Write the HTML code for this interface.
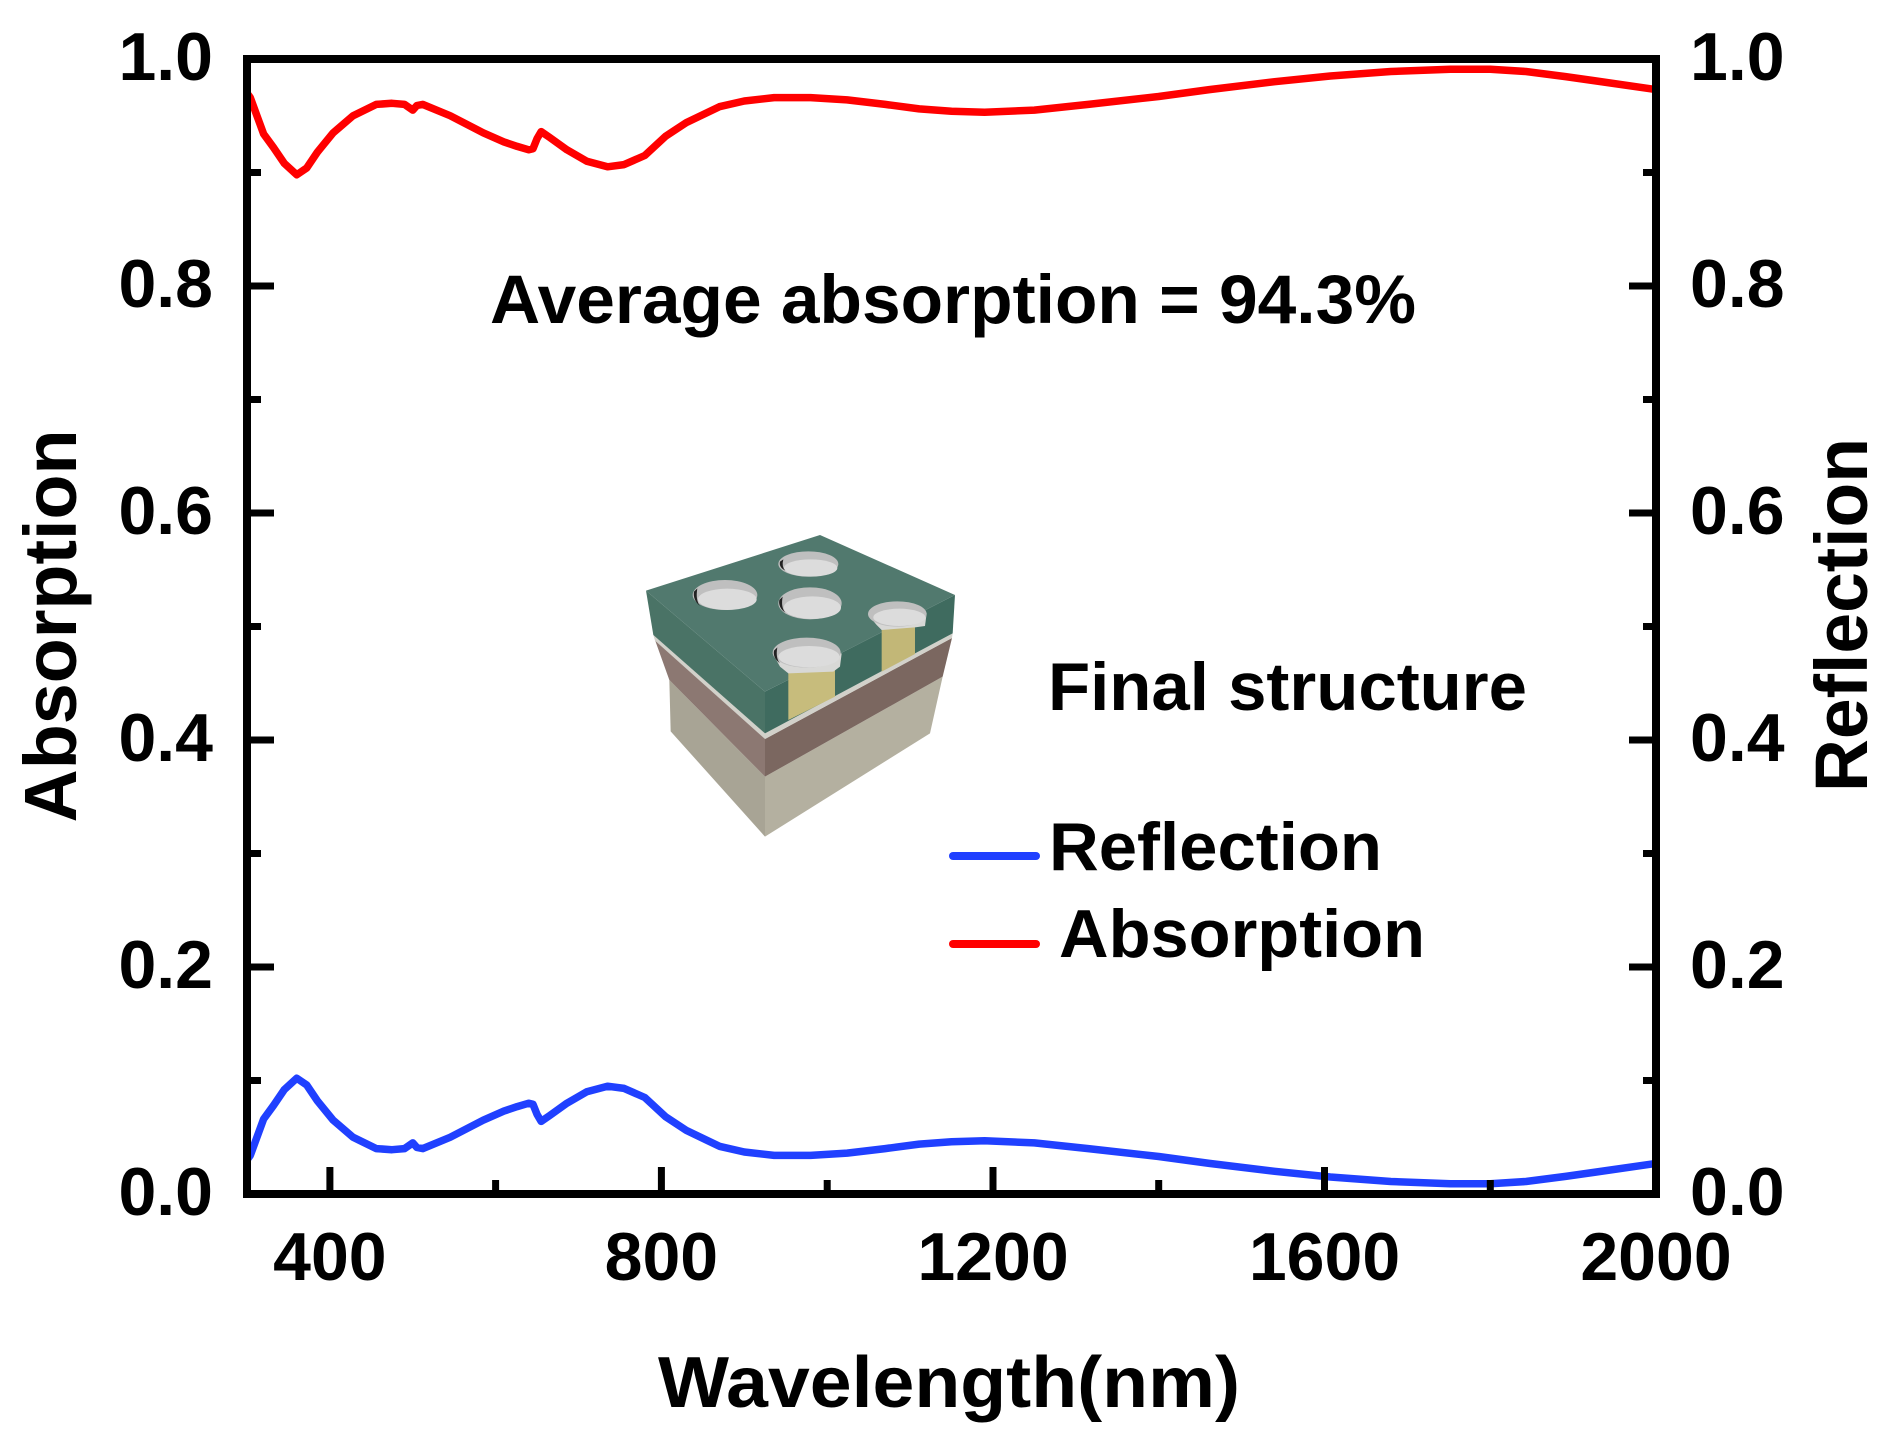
<!DOCTYPE html>
<html>
<head>
<meta charset="utf-8">
<style>
html,body{margin:0;padding:0;background:#fff;}
svg{display:block;}
text{font-family:"Liberation Sans",Arial,sans-serif;font-weight:bold;fill:#000;}
</style>
</head>
<body>
<svg width="1895" height="1452" viewBox="0 0 1895 1452" xmlns="http://www.w3.org/2000/svg">
<rect width="1895" height="1452" fill="#fff"/>
<defs>
<clipPath id="pa"><rect x="247" y="59" width="1409" height="1135"/></clipPath>
</defs>

<!-- curves -->
<g clip-path="url(#pa)" fill="none" stroke-width="7.5" stroke-linejoin="round" stroke-linecap="round">
<polyline stroke="#ff0000" points="247,93.1 250.3,97.6 256.9,115.7 263.6,133.9 273.5,147.5 284.3,163.4 296.7,174.8 306.7,168 317.4,152.1 333.2,132.8 353.1,115.7 376.3,104.4 392,103.3 404.5,104.4 412.8,110.1 416.9,105.5 422.7,104.4 450.1,115.7 483.2,132.8 503.9,141.9 517.2,146.4 528.8,149.8 533,148.7 537.1,138.5 541.2,131.6 549.5,137.3 566.9,149.8 586.8,161.2 607.5,166.8 624.1,164.6 644.8,155.5 665.6,136.2 686.3,122.6 719.4,106.7 744.3,101 774.1,97.6 810.6,97.6 847.1,99.9 885.2,104.4 919.2,108.9 951.5,111.2 984.6,112.3 1034.4,110.1 1088.3,104.4 1158.7,96.5 1209.3,89.6 1274.7,81.7 1330.3,76 1390.8,71.5 1450.4,69.2 1490.3,69.2 1525.9,71.5 1565.6,76.6 1593.8,80.6 1656,89.6"/>
<polyline stroke="#2040ff" points="247,1159.9 250.3,1155.4 256.9,1137.3 263.6,1119.1 273.5,1105.5 284.3,1089.6 296.7,1078.2 306.7,1085 317.4,1100.9 333.2,1120.2 353.1,1137.3 376.3,1148.6 392,1149.7 404.5,1148.6 412.8,1142.9 416.9,1147.5 422.7,1148.6 450.1,1137.3 483.2,1120.2 503.9,1111.1 517.2,1106.6 528.8,1103.2 533,1104.3 537.1,1114.5 541.2,1121.4 549.5,1115.7 566.9,1103.2 586.8,1091.8 607.5,1086.2 624.1,1088.4 644.8,1097.5 665.6,1116.8 686.3,1130.4 719.4,1146.3 744.3,1152 774.1,1155.4 810.6,1155.4 847.1,1153.1 885.2,1148.6 919.2,1144.1 951.5,1141.8 984.6,1140.7 1034.4,1142.9 1088.3,1148.6 1158.7,1156.5 1209.3,1163.4 1274.7,1171.3 1330.3,1177 1390.8,1181.5 1450.4,1183.8 1490.3,1183.8 1525.9,1181.5 1565.6,1176.4 1593.8,1172.4 1656,1163.4"/>
</g>

<!-- ticks -->
<g stroke="#000" stroke-width="7">
<line x1="247" y1="967" x2="274" y2="967"/>
<line x1="247" y1="740" x2="274" y2="740"/>
<line x1="247" y1="513" x2="274" y2="513"/>
<line x1="247" y1="286" x2="274" y2="286"/>
<line x1="247" y1="1080.5" x2="261" y2="1080.5"/>
<line x1="247" y1="853.5" x2="261" y2="853.5"/>
<line x1="247" y1="626.5" x2="261" y2="626.5"/>
<line x1="247" y1="399.5" x2="261" y2="399.5"/>
<line x1="247" y1="172.5" x2="261" y2="172.5"/>
<line x1="1656" y1="967" x2="1629" y2="967"/>
<line x1="1656" y1="740" x2="1629" y2="740"/>
<line x1="1656" y1="513" x2="1629" y2="513"/>
<line x1="1656" y1="286" x2="1629" y2="286"/>
<line x1="1656" y1="1080.5" x2="1643" y2="1080.5"/>
<line x1="1656" y1="853.5" x2="1643" y2="853.5"/>
<line x1="1656" y1="626.5" x2="1643" y2="626.5"/>
<line x1="1656" y1="399.5" x2="1643" y2="399.5"/>
<line x1="1656" y1="172.5" x2="1643" y2="172.5"/>
<line x1="329.9" y1="1194" x2="329.9" y2="1167"/>
<line x1="661.4" y1="1194" x2="661.4" y2="1167"/>
<line x1="993" y1="1194" x2="993" y2="1167"/>
<line x1="1324.5" y1="1194" x2="1324.5" y2="1167"/>
<line x1="495.6" y1="1194" x2="495.6" y2="1180"/>
<line x1="827.2" y1="1194" x2="827.2" y2="1180"/>
<line x1="1158.7" y1="1194" x2="1158.7" y2="1180"/>
<line x1="1490.3" y1="1194" x2="1490.3" y2="1180"/>
</g>

<!-- frame -->
<rect x="247" y="59" width="1409" height="1135" fill="none" stroke="#000" stroke-width="8"/>

<!-- left tick labels -->
<g font-size="68" text-anchor="end">
<text x="213" y="1215">0.0</text>
<text x="213" y="988">0.2</text>
<text x="213" y="761">0.4</text>
<text x="213" y="534">0.6</text>
<text x="213" y="307">0.8</text>
<text x="213" y="80">1.0</text>
</g>
<!-- right tick labels -->
<g font-size="68" text-anchor="start">
<text x="1690" y="1215">0.0</text>
<text x="1690" y="988">0.2</text>
<text x="1690" y="761">0.4</text>
<text x="1690" y="534">0.6</text>
<text x="1690" y="307">0.8</text>
<text x="1690" y="80">1.0</text>
</g>
<!-- bottom tick labels -->
<g font-size="68" text-anchor="middle">
<text x="329.9" y="1280">400</text>
<text x="661.4" y="1280">800</text>
<text x="993" y="1280">1200</text>
<text x="1324.5" y="1280">1600</text>
<text x="1656" y="1280">2000</text>
</g>

<!-- axis titles -->
<text x="658" y="1407" font-size="72" textLength="582" lengthAdjust="spacingAndGlyphs">Wavelength(nm)</text>
<text transform="translate(76,626) rotate(-90)" font-size="74" text-anchor="middle" textLength="393" lengthAdjust="spacingAndGlyphs">Absorption</text>
<text transform="translate(1867,615) rotate(-90)" font-size="74" text-anchor="middle" textLength="354" lengthAdjust="spacingAndGlyphs">Reflection</text>

<!-- annotations -->
<text x="490" y="323" font-size="69" textLength="926" lengthAdjust="spacingAndGlyphs">Average absorption = 94.3%</text>
<text x="1048" y="710" font-size="68" textLength="479" lengthAdjust="spacingAndGlyphs">Final structure</text>

<!-- legend -->
<line x1="953" y1="856" x2="1036" y2="856" stroke="#2040ff" stroke-width="8" stroke-linecap="round"/>
<text x="1049" y="870" font-size="68" textLength="333" lengthAdjust="spacingAndGlyphs">Reflection</text>
<line x1="953" y1="944" x2="1036" y2="944" stroke="#ff0000" stroke-width="8" stroke-linecap="round"/>
<text x="1059" y="957" font-size="68" textLength="366" lengthAdjust="spacingAndGlyphs">Absorption</text>

<!-- 3D structure inset -->
<g transform="translate(620,520) scale(0.33333)">
  <!-- left faces -->
  <polygon points="148,480 435,770 435,950 152,634" fill="#a8a495"/>
  <polygon points="105,360 435,655 435,770 148,480" fill="#8c7872"/>
  <polygon points="100,345 435,640 435,657 105,362" fill="#d2d1ca"/>
  <polygon points="78,212 435,515 435,640 100,345" fill="#4a7366"/>
  <!-- right faces -->
  <polygon points="435,770 968,470 930,640 435,950" fill="#b4b0a0"/>
  <polygon points="435,657 996,354 968,470 435,770" fill="#7b6760"/>
  <polygon points="435,640 998,340 996,354 435,657" fill="#d2d1ca"/>
  <polygon points="435,515 1005,225 998,340 435,640" fill="#3f6b5f"/>
  <!-- top face -->
  <polygon points="78,212 600,45 1005,225 435,515" fill="#51796e"/>
  <!-- yellow pillars -->
  <polygon points="785,320 885,312 885,402 785,455" fill="#c2b777"/>
  <polygon points="505,440 645,440 645,530 505,600" fill="#c7bc7c"/>
  <!-- hole walls / cross sections -->
  <polygon points="745,285 920,280 915,318 885,322 785,330 770,315" fill="#d8d8d6"/>
  <polygon points="458,400 665,400 660,440 640,455 505,460 480,440" fill="#d8d8d6"/>
  <!-- holes -->
  <ellipse cx="315" cy="225" rx="97" ry="45" fill="#bfbfbf"/>
  <ellipse cx="322" cy="238" rx="88" ry="32" fill="#dcdcdc"/>
  <path d="M222,215 Q218,240 240,258 Q226,240 232,205 Z" fill="#222"/>
  <ellipse cx="565" cy="132" rx="90" ry="38" fill="#bfbfbf"/>
  <ellipse cx="572" cy="144" rx="80" ry="26" fill="#dcdcdc"/>
  <path d="M480,125 Q476,142 496,152 Q484,140 490,118 Z" fill="#222"/>
  <ellipse cx="570" cy="250" rx="95" ry="48" fill="#bfbfbf"/>
  <ellipse cx="577" cy="263" rx="86" ry="34" fill="#dcdcdc"/>
  <path d="M478,240 Q474,262 496,278 Q482,262 488,230 Z" fill="#222"/>
  <ellipse cx="832" cy="282" rx="88" ry="38" fill="#bfbfbf"/>
  <ellipse cx="838" cy="292" rx="78" ry="26" fill="#dcdcdc"/>
  <ellipse cx="560" cy="398" rx="102" ry="45" fill="#bfbfbf"/>
  <ellipse cx="567" cy="410" rx="92" ry="32" fill="#dcdcdc"/>
  <path d="M462,392 Q458,414 480,430 Q466,414 472,382 Z" fill="#222"/>
</g>
</svg>
</body>
</html>
